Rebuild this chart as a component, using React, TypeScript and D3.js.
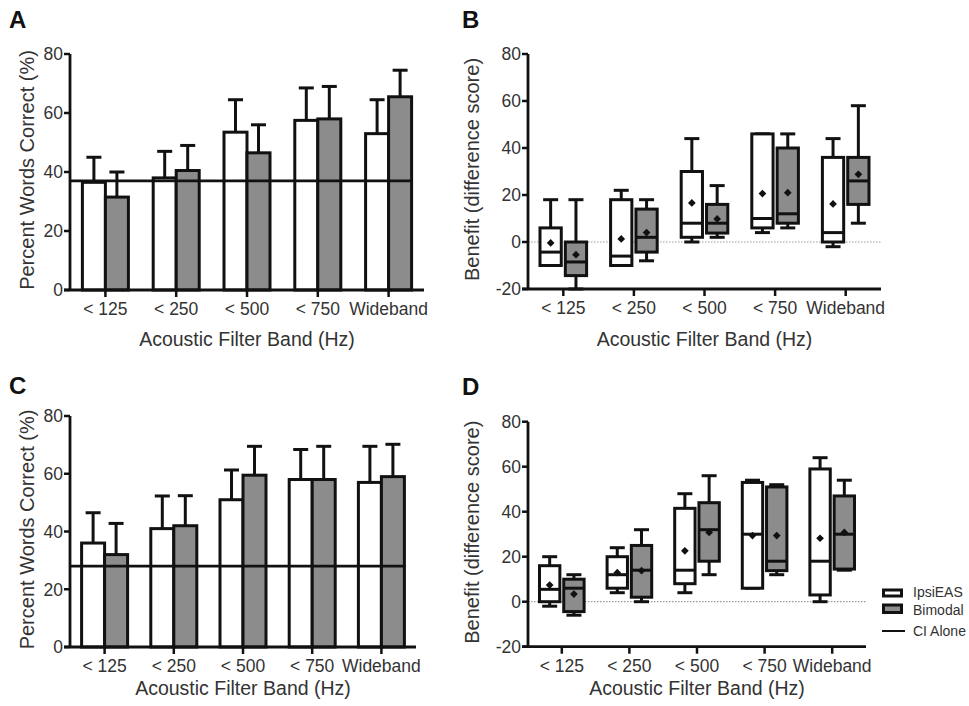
import React from "react";
import * as d3 from "d3";

const categories = ["< 125", "< 250", "< 500", "< 750", "Wideband"];
const seriesNames = ["IpsiEAS", "Bimodal"];
const yTicksBar = [0, 20, 40, 60, 80];
const yTicksBox = [-20, 0, 20, 40, 60, 80];

// Panel A: mean percent correct and upper error bar end
const aIpsiMean = [36.5, 38, 53.5, 57.5, 53];
const aIpsiUpper = [45, 47, 64.5, 68.5, 64.5];
const aBimodalMean = [31.5, 40.5, 46.5, 58, 65.5];
const aBimodalUpper = [40, 49, 56, 69, 74.5];
const aCiAlone = 37;

// Panel C
const cIpsiMean = [36, 41, 51, 58, 57];
const cIpsiUpper = [46.5, 52.3, 61.3, 68.4, 69.5];
const cBimodalMean = [32, 42, 59.5, 58, 59];
const cBimodalUpper = [42.8, 52.4, 69.5, 69.5, 70.2];
const cCiAlone = 28;

// Panel B box stats: [min, q1, median, q3, max], mean
const bIpsiMin = [-10, -10, 0, 4, -2];
const bIpsiQ1 = [-10, -10, 2, 6, 0];
const bIpsiMed = [-4.3, -6, 8, 10, 4];
const bIpsiQ3 = [6, 18, 30, 46, 36];
const bIpsiMax = [18, 22, 44, 46, 44];
const bIpsiAvg = [-0.4, 1.3, 16.6, 20.6, 16.2];
const bBimodalMin = [-20, -8, 2, 6, 8];
const bBimodalQ1 = [-14.3, -4.3, 3.8, 8, 16];
const bBimodalMed = [-8.5, 2, 8, 12, 26];
const bBimodalQ3 = [0, 14, 16, 40, 36];
const bBimodalMax = [18, 18, 24, 46, 58];
const bBimodalAvg = [-5.4, 4, 9.8, 21, 28.8];

// Panel D box stats
const dIpsiMin = [-2, 4, 4, 6, 0];
const dIpsiQ1 = [0, 6, 8, 6, 3];
const dIpsiMed = [5.5, 12, 14, 30, 18];
const dIpsiQ3 = [16, 20, 41.5, 53, 59];
const dIpsiMax = [20, 24, 48, 54, 64];
const dIpsiAvg = [7.4, 12.9, 22.6, 29.4, 28.2];
const dBimodalMin = [-6, 0, 12, 12, 14];
const dBimodalQ1 = [-4.4, 2, 18, 13.8, 14.5];
const dBimodalMed = [6, 14, 32, 18, 30];
const dBimodalQ3 = [10, 25, 44, 51, 47];
const dBimodalMax = [12, 32, 56, 52, 54];
const dBimodalAvg = [3.4, 13.8, 30.8, 29.4, 30.8];

const FONT = "'Liberation Sans', Arial, Helvetica, sans-serif";
const TEXT = "#333";
const GRAY = "#8c8c8c";
const TICK_FS = 17.5;
const TITLE_FS = 19.5;
const YTITLE_FS = 20;

type AxisFrame = {
  x0: number;
  x1: number;
  yTop: number;
  yBottom: number;
  domain: [number, number];
  ticks: number[];
  xTitleY: number;
  yTitleX: number;
  yTitle: string;
  label: string;
  labelX: number;
  labelY: number;
};

function Axes({ f, x, y }: { f: AxisFrame; x: d3.ScaleBand<string>; y: d3.ScaleLinear<number, number> }) {
  const bw = x.bandwidth();
  return (
    <g>
      <line x1={f.x0} x2={f.x0} y1={f.yTop} y2={f.yBottom} stroke="#111" strokeWidth={2.8} />
      <line x1={f.x0 - 6} x2={f.x1} y1={f.yBottom} y2={f.yBottom} stroke="#111" strokeWidth={2.8} />
      {f.ticks.map((t) => (
        <g key={t}>
          <line x1={f.x0 - 6} x2={f.x0} y1={y(t)} y2={y(t)} stroke="#111" strokeWidth={2.5} />
          <text x={f.x0 - 7} y={y(t)} dy="0.36em" textAnchor="end" fontSize={TICK_FS} fill={TEXT} fontFamily={FONT}>
            {t}
          </text>
        </g>
      ))}
      {categories.map((c) => {
        const cx = (x(c) as number) + bw / 2;
        return (
          <g key={c}>
            <line x1={cx} x2={cx} y1={f.yBottom} y2={f.yBottom + 7} stroke="#111" strokeWidth={2.5} />
            <text x={cx} y={f.yBottom + 25} textAnchor="middle" fontSize={TICK_FS} fill={TEXT} fontFamily={FONT}>
              {c}
            </text>
          </g>
        );
      })}
      <text x={(f.x0 + f.x1) / 2} y={f.xTitleY} textAnchor="middle" fontSize={TITLE_FS} fill={TEXT} fontFamily={FONT}>
        Acoustic Filter Band (Hz)
      </text>
      <text
        transform={`translate(${f.yTitleX},${(f.yTop + f.yBottom) / 2 - 2}) rotate(-90)`}
        textAnchor="middle"
        fontSize={YTITLE_FS}
        fill={TEXT}
        fontFamily={FONT}
      >
        {f.yTitle}
      </text>
      <text x={f.labelX} y={f.labelY} fontSize={24} fontWeight="bold" fill="#111" fontFamily={FONT}>
        {f.label}
      </text>
    </g>
  );
}

function BarPanel({
  f,
  means,
  uppers,
  ci,
}: {
  f: AxisFrame;
  means: number[][];
  uppers: number[][];
  ci: number;
}) {
  const x = d3.scaleBand<string>().domain(categories).range([f.x0, f.x1]).padding(0);
  const y = d3.scaleLinear().domain(f.domain).range([f.yBottom, f.yTop]);
  const inner = d3.scaleBand<string>().domain(seriesNames).range([-23, 23]).padding(0);
  const bw = x.bandwidth();
  const lastCx = (x(categories[categories.length - 1]) as number) + bw / 2;
  return (
    <g>
      {categories.map((c, i) => {
        const cx = (x(c) as number) + bw / 2;
        return (
          <g key={c}>
            {seriesNames.map((s, si) => {
              const bx = cx + (inner(s) as number);
              const w = inner.bandwidth();
              const m = means[si][i];
              const u = uppers[si][i];
              const mid = bx + w / 2;
              return (
                <g key={s}>
                  <rect
                    x={bx}
                    y={y(m)}
                    width={w}
                    height={y(0) - y(m)}
                    fill={si === 0 ? "#fff" : GRAY}
                    stroke="#111"
                    strokeWidth={3}
                  />
                  <line x1={mid} x2={mid} y1={y(m)} y2={y(u)} stroke="#111" strokeWidth={3} />
                  <line x1={mid - 7.5} x2={mid + 7.5} y1={y(u)} y2={y(u)} stroke="#111" strokeWidth={3} />
                </g>
              );
            })}
          </g>
        );
      })}
      <line x1={f.x0} x2={lastCx + 24} y1={y(ci)} y2={y(ci)} stroke="#111" strokeWidth={2.8} />
      <Axes f={f} x={x} y={y} />
    </g>
  );
}

function BoxPanel({
  f,
  stats,
}: {
  f: AxisFrame;
  stats: { min: number[]; q1: number[]; med: number[]; q3: number[]; max: number[]; avg: number[] }[];
}) {
  const x = d3.scaleBand<string>().domain(categories).range([f.x0, f.x1]).padding(0);
  const y = d3.scaleLinear().domain(f.domain).range([f.yBottom, f.yTop]);
  const half = x.bandwidth() * 0.33;
  const inner = d3.scaleBand<string>().domain(seriesNames).range([-half, half]).paddingInner(0.16);
  const bw = x.bandwidth();
  const diamond = d3.symbol().type(d3.symbolSquare).size(30)();
  return (
    <g>
      <line
        x1={f.x0}
        x2={f.x1}
        y1={y(0)}
        y2={y(0)}
        stroke="#9a9a9a"
        strokeWidth={1.2}
        strokeDasharray="1.5,1.5"
      />
      {categories.map((c, i) => {
        const cx = (x(c) as number) + bw / 2;
        return (
          <g key={c}>
            {seriesNames.map((s, si) => {
              const st = stats[si];
              const bx = cx + (inner(s) as number);
              const w = inner.bandwidth();
              const mid = bx + w / 2;
              return (
                <g key={s}>
                  <line x1={mid} x2={mid} y1={y(st.q3[i])} y2={y(st.max[i])} stroke="#111" strokeWidth={3} />
                  <line x1={mid} x2={mid} y1={y(st.q1[i])} y2={y(st.min[i])} stroke="#111" strokeWidth={3} />
                  <line x1={mid - 7.5} x2={mid + 7.5} y1={y(st.max[i])} y2={y(st.max[i])} stroke="#111" strokeWidth={3} />
                  <line x1={mid - 7.5} x2={mid + 7.5} y1={y(st.min[i])} y2={y(st.min[i])} stroke="#111" strokeWidth={3} />
                  <rect
                    x={bx}
                    y={y(st.q3[i])}
                    width={w}
                    height={y(st.q1[i]) - y(st.q3[i])}
                    fill={si === 0 ? "#fff" : GRAY}
                    stroke="#111"
                    strokeWidth={3}
                  />
                  <line x1={bx} x2={bx + w} y1={y(st.med[i])} y2={y(st.med[i])} stroke="#111" strokeWidth={3} />
                  <path d={diamond as string} transform={`translate(${mid},${y(st.avg[i])}) rotate(45)`} fill="#111" />
                </g>
              );
            })}
          </g>
        );
      })}
      <Axes f={f} x={x} y={y} />
    </g>
  );
}

const frameA: AxisFrame = {
  x0: 70, x1: 424, yTop: 54, yBottom: 290, domain: [0, 80], ticks: yTicksBar,
  xTitleY: 346, yTitleX: 34, yTitle: "Percent Words Correct (%)", label: "A", labelX: 9, labelY: 28,
};
const frameB: AxisFrame = {
  x0: 528, x1: 881, yTop: 54, yBottom: 289, domain: [-20, 80], ticks: yTicksBox,
  xTitleY: 346, yTitleX: 479, yTitle: "Benefit (difference score)", label: "B", labelX: 462, labelY: 28,
};
const frameC: AxisFrame = {
  x0: 70, x1: 416, yTop: 416, yBottom: 647, domain: [0, 80], ticks: yTicksBar,
  xTitleY: 695, yTitleX: 34, yTitle: "Percent Words Correct (%)", label: "C", labelX: 9, labelY: 394,
};
const frameD: AxisFrame = {
  x0: 528, x1: 866, yTop: 421.7, yBottom: 646.7, domain: [-20, 80], ticks: yTicksBox,
  xTitleY: 695, yTitleX: 479, yTitle: "Benefit (difference score)", label: "D", labelX: 462, labelY: 395,
};

function Legend() {
  return (
    <g fontFamily={FONT} fontSize={14} fill={TEXT}>
      <rect x={883.5} y={590} width={18} height={6} fill="#fff" stroke="#111" strokeWidth={3} />
      <text x={913} y={597}>{seriesNames[0]}</text>
      <rect x={883.5} y={605} width={18} height={7.5} fill={GRAY} stroke="#111" strokeWidth={3} />
      <text x={913} y={614.5}>{seriesNames[1]}</text>
      <line x1={882} x2={905} y1={631} y2={631} stroke="#111" strokeWidth={2} />
      <text x={913} y={636}>CI Alone</text>
    </g>
  );
}

export default function App() {
  return (
    <svg
      width={969}
      height={706}
      viewBox="0 0 969 706"
      style={{ position: "absolute", left: 0, top: 0, background: "#fff" }}
    >
      <rect x={0} y={0} width={969} height={706} fill="#fff" />
      <BarPanel f={frameA} means={[aIpsiMean, aBimodalMean]} uppers={[aIpsiUpper, aBimodalUpper]} ci={aCiAlone} />
      <BoxPanel
        f={frameB}
        stats={[
          { min: bIpsiMin, q1: bIpsiQ1, med: bIpsiMed, q3: bIpsiQ3, max: bIpsiMax, avg: bIpsiAvg },
          { min: bBimodalMin, q1: bBimodalQ1, med: bBimodalMed, q3: bBimodalQ3, max: bBimodalMax, avg: bBimodalAvg },
        ]}
      />
      <BarPanel f={frameC} means={[cIpsiMean, cBimodalMean]} uppers={[cIpsiUpper, cBimodalUpper]} ci={cCiAlone} />
      <BoxPanel
        f={frameD}
        stats={[
          { min: dIpsiMin, q1: dIpsiQ1, med: dIpsiMed, q3: dIpsiQ3, max: dIpsiMax, avg: dIpsiAvg },
          { min: dBimodalMin, q1: dBimodalQ1, med: dBimodalMed, q3: dBimodalQ3, max: dBimodalMax, avg: dBimodalAvg },
        ]}
      />
      <Legend />
    </svg>
  );
}
